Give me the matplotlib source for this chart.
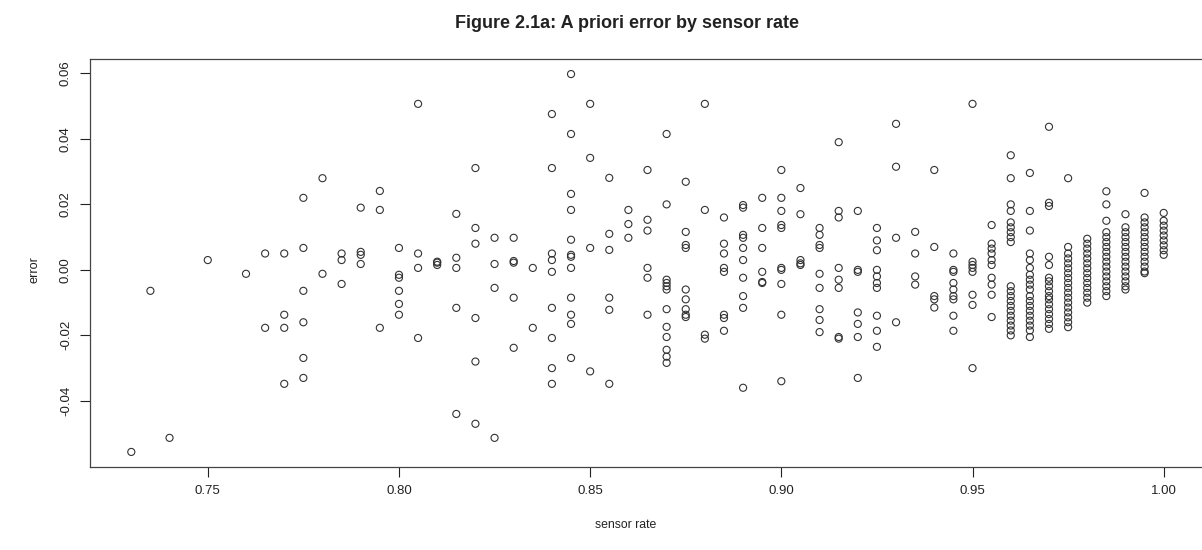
import matplotlib
matplotlib.use("Agg")
import matplotlib.pyplot as plt

# sensor rate levels and the a priori errors observed at each level
rate_levels = [
    0.73, 0.735, 0.74, 0.75, 0.76, 0.765, 0.77, 0.775, 0.78, 0.785,
    0.79, 0.795, 0.80, 0.805, 0.81, 0.815, 0.82, 0.825, 0.83, 0.835,
    0.84, 0.845, 0.85, 0.855, 0.86, 0.865, 0.87, 0.875, 0.88, 0.885,
    0.89, 0.895, 0.90, 0.905, 0.91, 0.915, 0.92, 0.925, 0.93, 0.935,
    0.94, 0.945, 0.95, 0.955, 0.96, 0.965, 0.97, 0.975, 0.98, 0.985,
    0.99, 0.995, 1.00,
]

error_groups = [
    [-0.0556],
    [-0.0064],
    [-0.0513],
    [0.003],
    [-0.0012],
    [0.005, -0.0177],
    [0.005, -0.0137, -0.0177, -0.0348],
    [0.022, 0.0067, -0.0064, -0.016, -0.0269, -0.033],
    [0.028, -0.0012],
    [0.005, 0.003, -0.0043],
    [0.019, 0.0055, 0.0046, 0.0018],
    [0.0241, 0.0183, -0.0177],
    [0.0067, -0.0015, -0.0024, -0.0064, -0.0104, -0.0137],
    [0.0507, 0.005, 0.0006, -0.0208],
    [0.0025, 0.0022, 0.0015],
    [0.0171, 0.0037, 0.0006, -0.0116, -0.044],
    [0.0311, 0.0128, 0.008, -0.0147, -0.028, -0.047],
    [0.0098, 0.0018, -0.0055, -0.0513],
    [0.0098, 0.0027, 0.0022, -0.0085, -0.0238],
    [0.0006, -0.0177],
    [0.0476, 0.0311, 0.005, 0.003, -0.0006, -0.0116, -0.0208, -0.030, -0.0348],
    [0.0598, 0.0415, 0.0232, 0.0183, 0.0092, 0.0046, 0.004, 0.0006,
     -0.0085, -0.0137, -0.0165, -0.0269],
    [0.0507, 0.0342, 0.0067, -0.031],
    [0.0281, 0.011, 0.0061, -0.0085, -0.0122, -0.0348],
    [0.0183, 0.014, 0.0098],
    [0.0305, 0.0153, 0.012, 0.0006, -0.0024, -0.0137],
    [0.0415, 0.020, -0.003, -0.004, -0.005, -0.006, -0.012, -0.0174,
     -0.0205, -0.0244, -0.0265, -0.0284],
    [0.0269, 0.0116, 0.0076, 0.0067, -0.006, -0.009, -0.012, -0.0137, -0.0144],
    [0.0507, 0.0183, -0.0198, -0.021],
    [0.016, 0.008, 0.005, 0.0006, -0.0006, -0.0137, -0.0147, -0.0186],
    [0.0198, 0.019, 0.0107, 0.0098, 0.0067, 0.003, -0.0024, -0.008, -0.0116, -0.036],
    [0.022, 0.0128, 0.0067, -0.0006, -0.0037, -0.004],
    [0.0305, 0.022, 0.018, 0.0137, 0.0128, 0.0006, 0.0, -0.0043, -0.0137, -0.034],
    [0.025, 0.017, 0.003, 0.002, 0.0015],
    [0.0128, 0.0107, 0.0076, 0.0067, -0.0012, -0.0055, -0.012, -0.0153, -0.019],
    [0.039, 0.018, 0.016, 0.0006, -0.003, -0.0055, -0.0205, -0.021],
    [0.018, 0.0, -0.0006, -0.013, -0.0165, -0.0205, -0.033],
    [0.0128, 0.009, 0.006, 0.0, -0.002, -0.004, -0.0055, -0.014, -0.0186, -0.0235],
    [0.0446, 0.0315, 0.0098, -0.016],
    [0.0116, 0.005, -0.002, -0.0045],
    [0.0305, 0.007, -0.008, -0.009, -0.0115],
    [0.005, 0.0, -0.0006, -0.004, -0.006, -0.008, -0.009, -0.014, -0.0186],
    [0.0507, 0.0025, 0.0015, 0.0006, -0.0006, -0.0076, -0.0107, -0.030],
    [0.0137, 0.008, 0.0065, 0.005, 0.003, 0.0015, -0.0024, -0.0045, -0.0076, -0.0144],
    [0.035, 0.028, 0.020, 0.018, 0.0145, 0.013, 0.0115, 0.010, 0.0085,
     -0.005, -0.0065, -0.008, -0.0095, -0.011, -0.0125, -0.014, -0.0155,
     -0.017, -0.0185, -0.020],
    [0.0296, 0.018, 0.012, 0.005, 0.003, 0.0006, -0.0015, -0.003, -0.0045,
     -0.006, -0.008, -0.0095, -0.011, -0.0125, -0.014, -0.0155, -0.017,
     -0.0185, -0.0205],
    [0.0437, 0.0205, 0.0195, 0.004, 0.0015, -0.0024, -0.0035, -0.005,
     -0.0065, -0.008, -0.009, -0.0105, -0.012, -0.0135, -0.015, -0.0165, -0.018],
    [0.028, 0.007, 0.005, 0.0035, 0.002, 0.0005, -0.001, -0.0025, -0.004,
     -0.0055, -0.007, -0.0085, -0.010, -0.0115, -0.013, -0.0145, -0.016, -0.0175],
    [0.0095, 0.008, 0.0065, 0.005, 0.0035, 0.002, 0.0005, -0.001, -0.0025,
     -0.004, -0.0055, -0.007, -0.0085, -0.010],
    [0.024, 0.020, 0.015, 0.0115, 0.010, 0.0085, 0.007, 0.0055, 0.004,
     0.0025, 0.001, -0.0005, -0.002, -0.0035, -0.005, -0.0065, -0.008],
    [0.017, 0.013, 0.0115, 0.010, 0.0085, 0.007, 0.0055, 0.004, 0.0025,
     0.001, -0.0005, -0.002, -0.0035, -0.005, -0.006],
    [0.0235, 0.016, 0.0145, 0.013, 0.0115, 0.010, 0.0085, 0.007, 0.0055,
     0.004, 0.0025, 0.001, -0.0005, -0.001],
    [0.0174, 0.015, 0.0135, 0.012, 0.0105, 0.009, 0.0075, 0.006, 0.0046],
]

x_ticks = [0.75, 0.80, 0.85, 0.90, 0.95, 1.00]
y_ticks = [-0.04, -0.02, 0.00, 0.02, 0.04, 0.06]

rate = [r for r, g in zip(rate_levels, error_groups) for _ in g]
error = [e for g in error_groups for e in g]

plt.rcParams["font.family"] = ["Liberation Sans", "DejaVu Sans"]
ink = "#222222"

W, H = 1202, 550
fig = plt.figure(figsize=(W / 100, H / 100), dpi=100)
# plot box in pixels: left 90, right ~1205 (runs off the image), top 59, bottom 467
ax = fig.add_axes([90 / W, (H - 467) / H, (1205 - 90) / W, (467 - 59) / H])

ax.scatter(rate, error, s=26, facecolors="none", edgecolors="#333333",
           linewidths=0.8)

ax.set_xlim(0.7192, 1.0108)
ax.set_ylim(-0.0602, 0.0644)
ax.set_xticks(x_ticks)
ax.set_xticklabels([f"{t:.2f}" for t in x_ticks])
ax.set_yticks(y_ticks)
ax.set_yticklabels([f"{t:.2f}" for t in y_ticks], rotation=90, va="center")
ax.tick_params(direction="out", length=7, width=0.8, colors=ink,
               labelsize=9.5, pad=6)
for s in ax.spines.values():
    s.set_color("#444444")
    s.set_linewidth(0.9)

fig.text(627 / W, 1 - 23 / H, "Figure 2.1a: A priori error by sensor rate",
         ha="center", va="center", fontsize=13, fontweight="bold", color=ink)
fig.text(626 / W, 1 - 525 / H, "sensor rate", ha="center", va="center",
         fontsize=8.8, color=ink)
fig.text(35 / W, 1 - 270 / H, "error", ha="center", va="center",
         rotation=90, fontsize=9.2, color=ink)

fig.savefig("out.png", dpi=100)
